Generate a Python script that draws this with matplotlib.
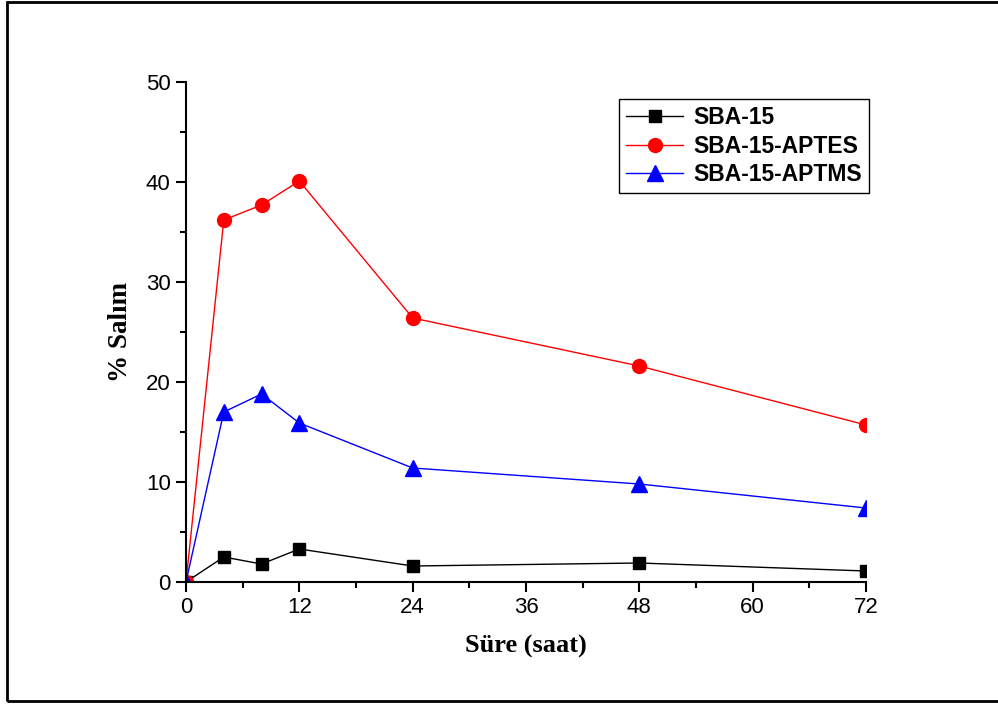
import matplotlib
matplotlib.use("Agg")
import matplotlib.pyplot as plt
from matplotlib.patches import Rectangle
from matplotlib.ticker import MultipleLocator

time_h = [0, 4, 8, 12, 24, 48, 72]
sba15 = [0, 2.5, 1.8, 3.3, 1.6, 1.9, 1.1]
sba15_aptes = [0, 36.2, 37.7, 40.1, 26.4, 21.6, 15.7]
sba15_aptms = [0, 17.0, 18.8, 15.9, 11.4, 9.8, 7.4]
series_names = ["SBA-15", "SBA-15-APTES", "SBA-15-APTMS"]
x_ticks = [0, 12, 24, 36, 48, 60, 72]
y_ticks = [0, 10, 20, 30, 40, 50]

fig = plt.figure(figsize=(9.98, 7.04), dpi=100)
ax = fig.add_axes([186/998, 1-582/704, 680/998, 500/704])

ax.plot(time_h, sba15, color="black", lw=1, marker="s", ms=9, label=series_names[0], clip_on=True)
ax.plot(time_h, sba15_aptes, color="red", lw=1, marker="o", ms=10, label=series_names[1], clip_on=True)
ax.plot(time_h, sba15_aptms, color="blue", lw=1, marker="^", ms=11, label=series_names[2], clip_on=True)

ax.set_xlim(0, 72)
ax.set_ylim(0, 50)
ax.set_xticks(x_ticks)
ax.set_yticks(y_ticks)
ax.xaxis.set_minor_locator(MultipleLocator(6))
ax.yaxis.set_minor_locator(MultipleLocator(5))
ax.spines["top"].set_visible(False)
ax.spines["right"].set_visible(False)
for s in ["left", "bottom"]:
    ax.spines[s].set_linewidth(1.5)
ax.tick_params(which="major", direction="out", length=7, width=1.5, labelsize=16, pad=4)
ax.tick_params(which="minor", direction="out", length=4, width=1.5)
for lab in ax.get_xticklabels() + ax.get_yticklabels():
    lab.set_family("Liberation Sans")

ax.set_xlabel("Süre (saat)", family="Liberation Serif", fontweight="bold", fontsize=19, labelpad=12)
ax.set_ylabel("% Salım", family="Liberation Serif", fontweight="bold", fontsize=19.5, labelpad=9)

leg = ax.legend(loc="upper left", bbox_to_anchor=((619-186)/680, (582-99)/500),
                prop={"family": "Liberation Sans", "weight": "bold", "size": 16.5},
                fancybox=False, edgecolor="black", framealpha=1, handlelength=2.5,
                borderpad=0.3, labelspacing=0.25, handletextpad=0.45, borderaxespad=0)
leg.get_frame().set_linewidth(1.0)

fig.patches.append(Rectangle((7/998, 1-701/704), 1.0, 699/704, transform=fig.transFigure,
                             fill=False, edgecolor="black", lw=2, clip_on=False))

fig.savefig("out.png", dpi=100)
